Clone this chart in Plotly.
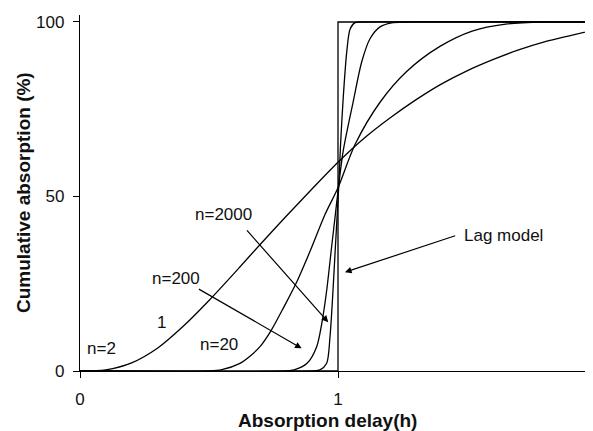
import plotly.graph_objects as go

# ---- data ----
x_n2 = [0, 0.1, 0.2, 0.3, 0.4, 0.5, 0.6, 0.7, 0.8, 0.9, 1.0, 1.1, 1.2, 1.3, 1.4, 1.5, 1.6, 1.7, 1.8, 1.9, 2.0]
y_n2 = [0, 0.3, 2.3, 6.5, 12.8, 20.2, 28.2, 36.4, 44.4, 52.2, 59.8, 66.6, 72.4, 77.6, 82.2, 86.0, 89.2, 92.0, 94.3, 96.1, 97.8]

x_n20 = [0, 0.5, 0.55, 0.62, 0.66, 0.70, 0.74, 0.79, 0.84, 0.89, 0.95, 1.0, 1.066, 1.163, 1.266, 1.395, 1.52, 1.65, 1.8, 2.0]
y_n20 = [0, 0, 0.4, 2.2, 4.3, 7.2, 11.5, 18.3, 25.5, 34.0, 44.9, 52.5, 64.9, 77.0, 85.8, 93.0, 97.4, 99.4, 100, 100]

x_n200 = [0, 0.8, 0.83, 0.88, 0.917, 0.937, 0.956, 0.975, 0.99, 1.0, 1.02, 1.059, 1.092, 1.124, 1.163, 1.214, 1.3, 2.0]
y_n200 = [0, 0, 0.3, 2.2, 6.9, 13.6, 23.0, 35.4, 45.0, 51.5, 63.0, 77.2, 88.6, 95.2, 98.6, 99.8, 100, 100]

x_n2000 = [0, 0.9, 0.93, 0.956, 0.969, 0.979, 0.988, 0.997, 1.003, 1.01, 1.02, 1.034, 1.047, 1.066, 1.1, 2.0]
y_n2000 = [0, 0, 0.3, 2.2, 9.8, 21.0, 33.0, 45.0, 53.0, 65.0, 78.0, 91.5, 98.0, 99.8, 100, 100]

x_lag = [0, 1, 1, 2]
y_lag = [0, 0, 100, 100]

x_ticks = [0, 1, 2]
y_ticks = [0, 50, 100]

FONT = "Liberation Sans, Arial, Helvetica, sans-serif"

fig = go.Figure()
for xs, ys in [(x_n2, y_n2), (x_n20, y_n20), (x_n200, y_n200), (x_n2000, y_n2000)]:
    fig.add_trace(go.Scatter(x=xs, y=ys, mode="lines",
                             line=dict(color="black", width=1.3, shape="spline", smoothing=0.8),
                             showlegend=False, hoverinfo="skip"))
fig.add_trace(go.Scatter(x=x_lag, y=y_lag, mode="lines",
                         line=dict(color="black", width=1.3),
                         showlegend=False, hoverinfo="skip"))

# the page body adds an 8px offset; the plot area is sized so x=2 falls just past the window edge
W, H = 610, 431
ml, mt, mb = 72, 5, 68
plot_w = 516
mr = W - ml - plot_w

fig.update_layout(
    width=W, height=H, autosize=False,
    margin=dict(l=ml, r=mr, t=mt, b=mb, pad=0),
    paper_bgcolor="white", plot_bgcolor="white",
    font=dict(family=FONT, size=17, color="black"),
    xaxis=dict(range=[0, 2], tickvals=x_ticks, ticktext=[str(v) for v in x_ticks],
               showgrid=False, zeroline=False, showline=True, linecolor="black", linewidth=1.3,
               ticks="outside", ticklen=6, tickwidth=1.2, tickcolor="black",
               ticklabelstandoff=6, tickfont=dict(size=17, family=FONT, color="#111")),
    yaxis=dict(range=[0, 102], tickvals=y_ticks, ticktext=[str(v) for v in y_ticks],
               showgrid=False, zeroline=False, showline=True, linecolor="black", linewidth=1.3,
               ticks="outside", ticklen=6, tickwidth=1.2, tickcolor="black",
               ticklabelstandoff=5, tickfont=dict(size=17, family=FONT, color="#111")),
)

# axis titles
fig.add_annotation(xref="paper", yref="paper", x=(319.5 - ml) / plot_w, y=0,
                   yanchor="middle", yshift=-49, text="<b>Absorption delay(h)</b>",
                   showarrow=False, font=dict(size=19, family=FONT, color="#111"))
fig.add_annotation(xref="paper", yref="paper", x=0, xshift=-57, y=0.5,
                   xanchor="center", yanchor="middle", textangle=-90,
                   text="<b>Cumulative absorption (%)</b>",
                   showarrow=False, font=dict(size=19, family=FONT, color="#111"))

# curve labels
labels = [("n=2000", 0.558, 44.9), ("n=200", 0.372, 26.4), ("Lag model", 1.642, 38.7),
          ("n=20", 0.539, 7.7), ("1", 0.314, 14.0), ("n=2", 0.084, 6.5)]
for t, lx, ly in labels:
    fig.add_annotation(x=lx, y=ly, text=t, showarrow=False, xanchor="center", yanchor="middle",
                       font=dict(size=17, family=FONT, color="#111"))

# arrows (head x,y ; tail ax,ay)
arrows = [(0.962, 14.0, 0.642, 40.7), (0.859, 6.5, 0.455, 23.7), (1.027, 28.3, 1.460, 38.9)]
for hx, hy, tx, ty in arrows:
    fig.add_annotation(x=hx, y=hy, ax=tx, ay=ty, xref="x", yref="y", axref="x", ayref="y",
                       text="", showarrow=True, arrowhead=2, arrowsize=1.1, arrowwidth=1.2,
                       arrowcolor="black", standoff=0, startstandoff=0)

fig.write_html("out.html")
